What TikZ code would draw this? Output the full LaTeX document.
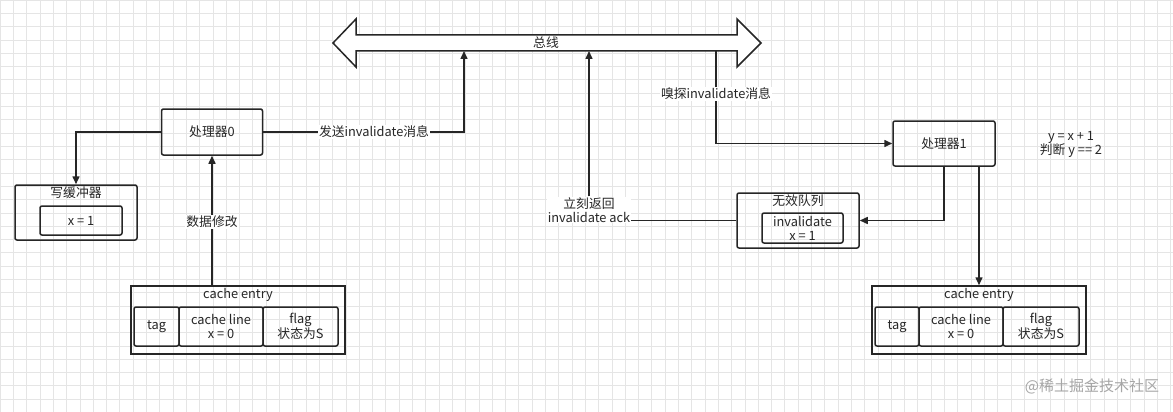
\documentclass[tikz,border=0pt]{standalone}
\usepackage{fontspec}
\setmainfont{Noto Sans CJK SC}
\usetikzlibrary{arrows.meta}
\begin{document}
\begin{tikzpicture}[x=1pt,y=-1pt,
  box/.style={draw=black!85,line width=1.5pt,rounded corners=2pt},
  sq/.style={draw=black!85,line width=1.5pt},
  conn/.style={draw=black!85,line width=1.5pt,-{Triangle[length=8pt,width=7pt]}},
  ln/.style={draw=black!85,line width=1.5pt},
  txt/.style={font=\fontsize{12.8}{14}\selectfont,text=black!85,align=center,inner sep=1pt},
  lbl/.style={txt,fill=white}]
\useasboundingbox (0,0) rectangle (1173,412);
\fill[white] (0,0) rectangle (1173,412);
\foreach \i in {0,...,88} {\draw[black!10,line width=0.6pt] (\i*13.3,0) -- (\i*13.3,412);}
\foreach \i in {0,...,31} {\draw[black!10,line width=0.6pt] (0,\i*13.3) -- (1173,\i*13.3);}
% bus
\draw[sq,fill=white,line join=miter] (333,43) -- (356,19) -- (356,35) -- (737,35) -- (737,19) -- (761,43) -- (737,67) -- (737,51) -- (356,51) -- (356,67) -- cycle;
\node[txt] (bus) at (546,43) {总线};
\coordinate (busS) at (464,51);
\coordinate (busA) at (589,51);
\coordinate (busR) at (716,51);
% processor 0
\node[box,minimum width=101pt,minimum height=46pt,txt,inner sep=0pt] (p0) at (212,132) {处理器0};
% write buffer
\node[box,minimum width=122pt,minimum height=55pt] (wb) at (76,212.5) {};
\node[txt] (wbt) at (76,193) {写缓冲器};
\node[box,minimum width=82pt,minimum height=29pt,txt,inner sep=0pt] (wbx) at (81,220.5) {x = 1};
% cache entry left
\node[sq,minimum width=214pt,minimum height=68pt] (ce0) at (238,320) {};
\node[txt] (ce0t) at (238,295) {cache entry};
\node[box,minimum width=45pt,minimum height=39pt,txt,inner sep=0pt] (t0) at (156.5,326.5) {tag};
\node[box,minimum width=84pt,minimum height=39pt,txt,inner sep=0pt] (l0) at (221,326.5) {cache line\\x = 0};
\node[box,minimum width=75pt,minimum height=39pt,txt,inner sep=0pt] (f0) at (300.5,326.5) {flag\\状态为S};
% processor 1
\node[box,minimum width=102pt,minimum height=45pt,txt,inner sep=0pt] (p1) at (944,143.5) {处理器1};
\node[txt] (eq) at (1071,144) {y = x + 1\\判断 y == 2};
% invalidate queue
\node[box,minimum width=122pt,minimum height=55pt] (iq) at (798,220.5) {};
\node[txt] (iqt) at (798,201) {无效队列};
\node[box,minimum width=81pt,minimum height=30pt,txt,inner sep=0pt] (iqx) at (802.5,228) {invalidate\\x = 1};
% cache entry right
\node[sq,minimum width=214pt,minimum height=68pt] (ce1) at (979,320) {};
\node[txt] (ce1t) at (979,295) {cache entry};
\node[box,minimum width=44pt,minimum height=39pt,txt,inner sep=0pt] (t1) at (897,326.5) {tag};
\node[box,minimum width=84pt,minimum height=39pt,txt,inner sep=0pt] (l1) at (961,326.5) {cache line\\x = 0};
\node[box,minimum width=76pt,minimum height=39pt,txt,inner sep=0pt] (f1) at (1041,326.5) {flag\\状态为S};
% connectors
\draw[conn] (p0.east) -| (busS);
\node[lbl] at (374,132) {发送invalidate消息};
\draw[conn] (p0.west) -| (wb.north-|76,0);
\draw[conn] (ce0.north-|212,0) -- (p0.south);
\node[lbl] at (212,222) {数据修改};
\node[lbl] (ack) at (589,210) {立刻返回\\invalidate ack};
\draw[conn] (ack.north) -- (busA);
\draw[ln] (iq.west) -- (ack.east|-iq.west);
\draw[conn] (busR) |- (p1.west);
\node[lbl] at (716,94) {嗅探invalidate消息};
\draw[conn] (p1.south) |- (iq.east);
\draw[conn] (p1.south-|979,0) -- (ce1.north-|979,0);
\node[txt,text=black!35,font=\fontsize{15}{17}\selectfont] at (1092,386) {@稀土掘金技术社区};
\end{tikzpicture}
\end{document}
